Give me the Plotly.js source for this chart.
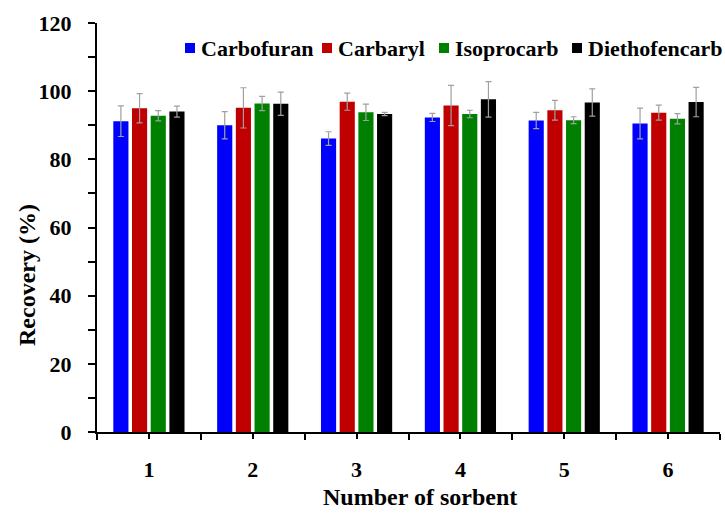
<!DOCTYPE html>
<html>
<head>
<meta charset="utf-8">
<script src="https://cdn.plot.ly/plotly-3.0.1.min.js"></script>
<style>html,body{margin:0;padding:0;background:#fff;}#chart{width:725px;height:513px;}</style>
</head>
<body>
<div id="chart"></div>
<script>
// ---- data ----
var sorbents = [1, 2, 3, 4, 5, 6];
var tickLabels = ["1", "2", "3", "4", "5", "6"];
var seriesNames = ["Carbofuran", "Carbaryl", "Isoprocarb", "Diethofencarb"];
var carbofuran = [91.2, 90.0, 86.1, 92.3, 91.4, 90.5];
var carbofuranErr = [4.5, 4.0, 2.0, 1.2, 2.4, 4.5];
var carbaryl = [95.0, 95.1, 96.9, 95.8, 94.4, 93.7];
var carbarylErr = [4.3, 5.9, 2.5, 5.9, 2.9, 2.2];
var isoprocarb = [92.8, 96.4, 93.8, 93.3, 91.5, 91.9];
var isoprocarbErr = [1.5, 2.1, 2.4, 1.1, 1.0, 1.5];
var diethofencarb = [94.0, 96.3, 93.3, 97.6, 96.7, 96.8];
var diethofencarbErr = [1.6, 3.4, 0.5, 5.2, 4.0, 4.3];
var colors = ["#0000ff", "#c00000", "#008000", "#000000"];

var values = [carbofuran, carbaryl, isoprocarb, diethofencarb];
var errs = [carbofuranErr, carbarylErr, isoprocarbErr, diethofencarbErr];

var traces = seriesNames.map(function (name, i) {
  return {
    type: "bar",
    name: name,
    x: sorbents,
    y: values[i],
    marker: { color: colors[i], line: { width: 0 } },
    error_y: { type: "data", array: errs[i], visible: true, color: "#a0a0a0", thickness: 1.2, width: 3 },
    showlegend: false
  };
});

var L = 97, R = 5, T = 23, B = 81, W = 725 - L - R, H = 513 - T - B;
function px(x) { return (x - L) / W; }
function py(y) { return (513 - B - y) / H; }

var font = "Times New Roman, Liberation Serif, Tinos, DejaVu Serif, serif";

// custom legend (squares + labels)
var legendSquareX = [185, 322, 439, 572];
var legendY = 48;
var shapes = [];
var annotations = [];
seriesNames.forEach(function (name, i) {
  var x0 = legendSquareX[i];
  shapes.push({
    type: "rect", xref: "paper", yref: "paper",
    x0: px(x0), x1: px(x0 + 10), y0: py(legendY + 5), y1: py(legendY - 5),
    fillcolor: colors[i], line: { width: 0 }
  });
  annotations.push({
    xref: "paper", yref: "paper", x: px(x0 + 14), y: py(legendY),
    xanchor: "left", yanchor: "middle", showarrow: false,
    text: "<b>" + name + "</b>",
    font: { family: font, size: 22, color: "#000" }
  });
});
annotations.push({
  xref: "paper", yref: "paper", x: px(420), y: py(497),
  xanchor: "center", yanchor: "middle", showarrow: false,
  text: "<b>Number of sorbent</b>", font: { family: font, size: 24, color: "#000" }
});
annotations.push({
  xref: "paper", yref: "paper", x: px(27), y: py(275),
  xanchor: "center", yanchor: "middle", showarrow: false, textangle: -90,
  text: "<b>Recovery (%)</b>", font: { family: font, size: 24, color: "#000" }
});

var layout = {
  width: 725, height: 513,
  margin: { l: L, r: R, t: T, b: B },
  paper_bgcolor: "#fff", plot_bgcolor: "#fff",
  barmode: "group", bargap: 0.28, bargroupgap: 0.19,
  font: { family: font, color: "#000" },
  xaxis: {
    type: "linear", range: [0.5, 6.5],
    tickmode: "array", tickvals: sorbents, ticktext: tickLabels,
    ticks: "outside", ticklen: 5, tickwidth: 2, tickcolor: "#000",
    minor: { tickmode: "array", tickvals: [0.5, 1.5, 2.5, 3.5, 4.5, 5.5, 6.5], ticks: "outside", ticklen: 6, tickwidth: 2, tickcolor: "#000" },
    showline: true, linecolor: "#000", linewidth: 2,
    showgrid: false, zeroline: false,
    tickfont: { family: font, size: 22, color: "#000", weight: "bold" },
    ticklabelstandoff: 12
  },
  yaxis: {
    range: [0, 120], tickmode: "linear", tick0: 0, dtick: 20,
    ticks: "outside", ticklen: 7, tickwidth: 2, tickcolor: "#000",
    minor: { tickmode: "linear", tick0: 0, dtick: 10, ticks: "outside", ticklen: 7, tickwidth: 2, tickcolor: "#000" },
    showline: true, linecolor: "#000", linewidth: 2,
    showgrid: false, zeroline: false,
    tickfont: { family: font, size: 22, color: "#000", weight: "bold" },
    ticklabelstandoff: 12
  },
  shapes: shapes,
  annotations: annotations
};

Plotly.newPlot("chart", traces, layout, { displayModeBar: false, staticPlot: true });
</script>
</body>
</html>
